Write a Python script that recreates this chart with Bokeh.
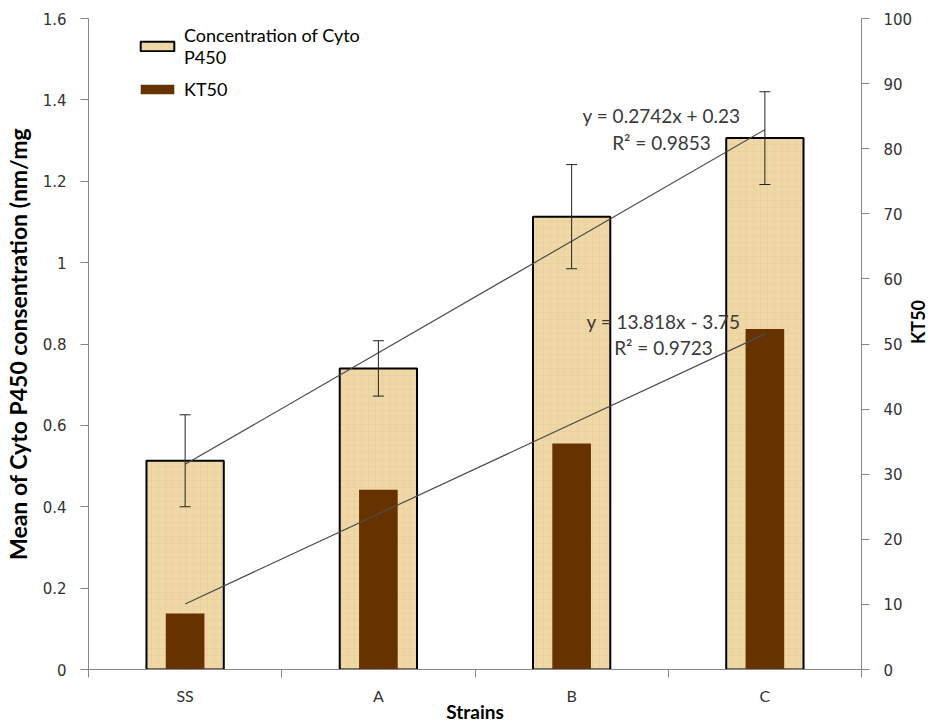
import math
from bokeh.plotting import figure
from bokeh.models import (Range1d, LinearAxis, FixedTicker, ColumnDataSource,
                          Whisker, TeeHead, Label, Legend, LegendItem)
from bokeh.embed import file_html
from bokeh.resources import INLINE

# ---- data ----
strains = ["SS", "A", "B", "C"]
cyto_p450 = [0.513, 0.740, 1.113, 1.306]
cyto_err = [0.113, 0.068, 0.128, 0.114]
kt50 = [8.6, 27.6, 34.7, 52.3]
cyto_fit = [0.2742, 0.23, 0.9853]     # slope, intercept, R2
kt50_fit = [13.818, -3.75, 0.9723]
left_ticks = [0, 0.2, 0.4, 0.6, 0.8, 1, 1.2, 1.4, 1.6]
left_tick_labels = ["0", "0.2", "0.4", "0.6", "0.8", "1", "1.2", "1.4", "1.6"]
right_ticks = [0, 10, 20, 30, 40, 50, 60, 70, 80, 90, 100]

xs = [i + 0.5 for i in range(len(strains))]
n = len(strains)

AX = "#868686"
TXT = "#333333"
NUM_FONT = "DejaVu Sans"
TXT_FONT = "Lato"

p = figure(frame_width=773, frame_height=651,
           x_range=Range1d(0, n), y_range=Range1d(0, 1.6),
           output_backend="svg", toolbar_location=None,
           min_border_left=88, min_border_right=80,
           min_border_top=18, min_border_bottom=54)
p.extra_y_ranges = {"kt": Range1d(0, 100)}
p.grid.visible = False
p.outline_line_color = None

# bars
src = ColumnDataSource(dict(x=xs, cyto=cyto_p450, kt=kt50,
                            upper=[v + e for v, e in zip(cyto_p450, cyto_err)],
                            lower=[v - e for v, e in zip(cyto_p450, cyto_err)]))
r_cyto = p.vbar(x="x", top="cyto", width=0.40, source=src,
                fill_color="#EFD8A6", line_color="black", line_width=2,
                hatch_pattern="cross", hatch_color="#D9BE86", hatch_alpha=0.2,
                hatch_scale=7, hatch_weight=1)
r_kt = p.vbar(x="x", top="kt", width=0.20, source=src, y_range_name="kt",
              fill_color="#663300", line_color="#663300", line_width=0)

# trend lines from displayed fit equations (x = 1..n)
p.line([xs[0], xs[-1]], [cyto_fit[0] * 1 + cyto_fit[1], cyto_fit[0] * n + cyto_fit[1]],
       line_color="#4d4d4d", line_width=1.2)
p.line([xs[0], xs[-1]], [kt50_fit[0] * 1 + kt50_fit[1], kt50_fit[0] * n + kt50_fit[1]],
       line_color="#4d4d4d", line_width=1.2, y_range_name="kt")

# error bars
p.add_layout(Whisker(base="x", upper="upper", lower="lower", source=src, level="overlay",
                     line_color="#222222", line_width=1,
                     upper_head=TeeHead(size=11, line_color="#222222", line_width=1),
                     lower_head=TeeHead(size=11, line_color="#222222", line_width=1)))

# equations
def eq_label(x, y, text):
    p.add_layout(Label(x=x, y=y, text=text, text_align="center", text_baseline="middle",
                       text_font=TXT_FONT, text_font_size="19px", text_color="#3a3a3a"))

eq_label(2.965, 1.362, f"y = {cyto_fit[0]}x + {cyto_fit[1]}")
eq_label(2.965, 1.296, f"R² = {cyto_fit[2]}")
eq_label(2.975, 0.856, f"y = {kt50_fit[0]}x - {abs(kt50_fit[1])}")
eq_label(2.975, 0.792, f"R² = {kt50_fit[2]}")

# x axis
xa = p.xaxis[0]
xa.ticker = FixedTicker(ticks=xs, minor_ticks=list(range(n + 1)))
xa.major_label_overrides = {x: s for x, s in zip(xs, strains)}
xa.major_tick_out = 0
xa.major_tick_in = 0
xa.minor_tick_out = 8
xa.minor_tick_in = 0
xa.minor_tick_line_color = AX
xa.axis_line_color = AX
xa.major_label_standoff = 8
xa.major_label_text_font = TXT_FONT
xa.major_label_text_font_size = "16px"
xa.major_label_text_color = TXT
xa.axis_label = "Strains"
xa.axis_label_standoff = -8
xa.axis_label_text_font = TXT_FONT
xa.axis_label_text_font_style = "bold"
xa.axis_label_text_font_size = "19px"
xa.axis_label_text_color = "black"

# left axis
ya = p.yaxis[0]
ya.ticker = FixedTicker(ticks=left_ticks, minor_ticks=[])
ya.major_label_overrides = {t: s for t, s in zip(left_ticks, left_tick_labels)}
ya.major_tick_out = 8
ya.major_tick_in = 0
ya.minor_tick_out = 0
ya.major_tick_line_color = AX
ya.axis_line_color = AX
ya.major_label_standoff = 14
ya.major_label_text_font = NUM_FONT
ya.major_label_text_font_size = "15px"
ya.major_label_text_color = TXT
ya.axis_label = "Mean of Cyto P450 consentration (nm/mg"
ya.axis_label_standoff = 8
ya.axis_label_text_font = TXT_FONT
ya.axis_label_text_font_style = "bold"
ya.axis_label_text_font_size = "23px"
ya.axis_label_text_color = "black"

# right axis
ra = LinearAxis(y_range_name="kt", ticker=FixedTicker(ticks=right_ticks, minor_ticks=[]))
ra.major_tick_out = 8
ra.major_tick_in = 0
ra.minor_tick_out = 0
ra.major_tick_line_color = AX
ra.axis_line_color = AX
ra.major_label_standoff = 14
ra.major_label_text_font = NUM_FONT
ra.major_label_text_font_size = "15px"
ra.major_label_text_color = TXT
ra.axis_label = "KT50"
ra.axis_label_standoff = 3
ra.axis_label_orientation = math.pi / 2
ra.axis_label_text_font = TXT_FONT
ra.axis_label_text_font_style = "bold"
ra.axis_label_text_font_size = "18px"
ra.axis_label_text_color = "black"
p.add_layout(ra, "right")

# legend
legend = Legend(items=[LegendItem(label="Concentration of Cyto\nP450", renderers=[r_cyto]),
                       LegendItem(label="KT50", renderers=[r_kt])],
                location=(38, 559), margin=0, padding=10,
                glyph_width=42, glyph_height=12, label_standoff=6, spacing=10,
                label_text_font=TXT_FONT, label_text_font_size="18px",
                label_text_line_height=1.35,
                label_text_color="black",
                background_fill_alpha=0, border_line_alpha=0)
legend.click_policy = "none"
p.add_layout(legend, "center")

open("out.html", "w").write(file_html(p, INLINE))
